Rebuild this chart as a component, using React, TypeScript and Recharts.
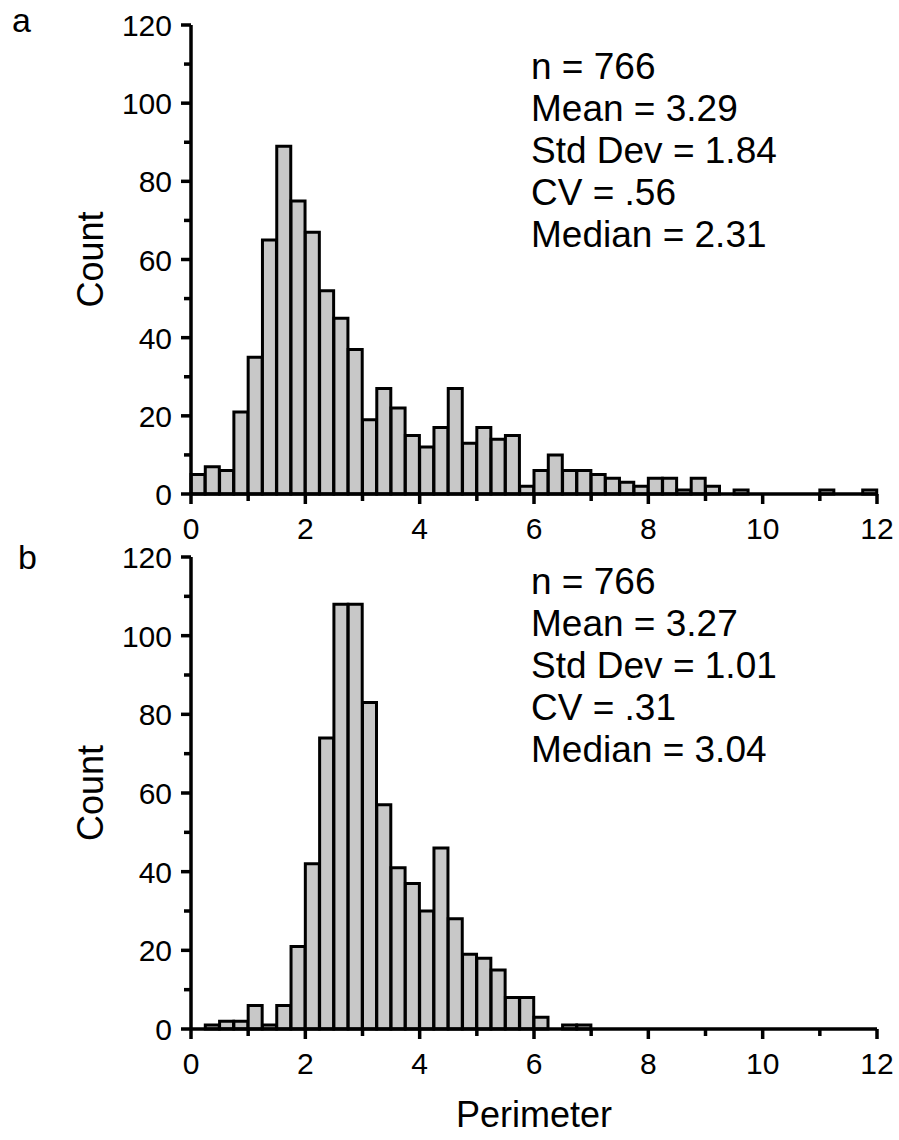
import { BarChart, Bar, XAxis, YAxis } from 'recharts'

// bin left edges, 0.25 wide, 0 .. 12
const binStarts = Array.from({ length: 48 }, (_, i) => i * 0.25)

const countsA = [
  5, 7, 6, 21, 35, 65, 89, 75, 67, 52, 45, 37,
  19, 27, 22, 15, 12, 17, 27, 13, 17, 14, 15, 2,
  6, 10, 6, 6, 5, 4, 3, 2, 4, 4, 1, 4,
  2, 0, 1, 0, 0, 0, 0, 0, 1, 0, 0, 1,
]

const countsB = [
  0, 1, 2, 2, 6, 1, 6, 21, 42, 74, 108, 108,
  83, 57, 41, 37, 30, 46, 28, 19, 18, 15, 8, 8,
  3, 0, 1, 1, 0, 0, 0, 0, 0, 0, 0, 0,
  0, 0, 0, 0, 0, 0, 0, 0, 0, 0, 0, 0,
]

const statsA = ['n = 766', 'Mean = 3.29', 'Std Dev = 1.84', 'CV = .56', 'Median = 2.31']
const statsB = ['n = 766', 'Mean = 3.27', 'Std Dev = 1.01', 'CV = .31', 'Median = 3.04']

const xTicks = [0, 1, 2, 3, 4, 5, 6, 7, 8, 9, 10, 11, 12]
const yTicks = [0, 10, 20, 30, 40, 50, 60, 70, 80, 90, 100, 110, 120]

const FONT = '"Liberation Sans", Arial, sans-serif'

const toRows = (counts: number[]) =>
  binStarts.map((s, i) => ({ mid: s + 0.125, count: counts[i] }))

const dataA = toRows(countsA)
const dataB = toRows(countsB)

function XTick({ x, y, payload }: any) {
  const major = payload.value % 2 === 0
  return (
    <g>
      <line x1={x} x2={x} y1={y} y2={y + (major ? 10 : 7)} stroke="#000" strokeWidth={3.5} />
      {major && (
        <text x={x} y={y + 45} textAnchor="middle" fontSize={30} fontFamily={FONT} fill="#000">
          {payload.value}
        </text>
      )}
    </g>
  )
}

function YTick({ x, y, payload }: any) {
  const major = payload.value % 20 === 0
  return (
    <g>
      <line x1={x} x2={x - (major ? 10 : 7)} y1={y} y2={y} stroke="#000" strokeWidth={3.5} />
      {major && (
        <text x={x - 19} y={y + 11} textAnchor="end" fontSize={30} fontFamily={FONT} fill="#000">
          {payload.value}
        </text>
      )}
    </g>
  )
}

function CountLabel({ viewBox }: any) {
  const cx = 90
  const cy = viewBox.y + viewBox.height / 2
  return (
    <text
      x={cx}
      y={cy}
      transform={`rotate(-90 ${cx} ${cy})`}
      textAnchor="middle"
      dominantBaseline="central"
      fontSize={36}
      fontFamily={FONT}
      fill="#000"
    >
      Count
    </text>
  )
}

function PerimeterLabel({ viewBox }: any) {
  return (
    <text
      x={viewBox.x + viewBox.width / 2}
      y={viewBox.y + 85}
      textAnchor="middle"
      dominantBaseline="central"
      fontSize={36}
      fontFamily={FONT}
      fill="#000"
    >
      Perimeter
    </text>
  )
}

function Histogram({ data, height, top, bottom, xHeight, withLabel }: any) {
  return (
    <BarChart
      width={899}
      height={height}
      data={data}
      margin={{ top, right: 22, bottom, left: 101 }}
      barCategoryGap={0}
      barGap={0}
    >
      <XAxis
        dataKey="mid"
        type="number"
        domain={[0, 12]}
        ticks={xTicks}
        interval={0}
        tickSize={0}
        tickMargin={0}
        height={xHeight}
        axisLine={{ stroke: '#000', strokeWidth: 3.5 }}
        tickLine={false}
        tick={<XTick />}
        label={withLabel ? <PerimeterLabel /> : undefined}
      />
      <YAxis
        domain={[0, 120]}
        ticks={yTicks}
        interval={0}
        tickSize={0}
        tickMargin={0}
        width={90}
        axisLine={{ stroke: '#000', strokeWidth: 3.5 }}
        tickLine={false}
        tick={<YTick />}
        label={<CountLabel />}
      />
      <Bar dataKey="count" fill="#c8c8c8" stroke="#000" strokeWidth={3} isAnimationActive={false} />
    </BarChart>
  )
}

function Stats({ lines, top }: { lines: string[]; top: number }) {
  return (
    <div
      style={{
        position: 'absolute',
        left: 531,
        top,
        fontFamily: FONT,
        fontSize: 37,
        lineHeight: '42px',
        color: '#000',
      }}
    >
      {lines.map(l => (
        <div key={l}>{l}</div>
      ))}
    </div>
  )
}

export default function App() {
  return (
    <div style={{ position: 'absolute', left: 0, top: 0, width: 899, height: 1140, background: '#fff' }}>
      <div style={{ position: 'absolute', left: 0, top: 0 }}>
        <Histogram data={dataA} height={560} top={25} bottom={26} xHeight={40} />
      </div>
      <div style={{ position: 'absolute', left: 0, top: 530 }}>
        <Histogram data={dataB} height={610} top={27} bottom={31} xHeight={80} withLabel />
      </div>
      <div style={{ position: 'absolute', left: 12, top: 1, fontFamily: FONT, fontSize: 34 }}>a</div>
      <div style={{ position: 'absolute', left: 18, top: 538, fontFamily: FONT, fontSize: 34 }}>b</div>
      <Stats lines={statsA} top={46} />
      <Stats lines={statsB} top={561} />
    </div>
  )
}
